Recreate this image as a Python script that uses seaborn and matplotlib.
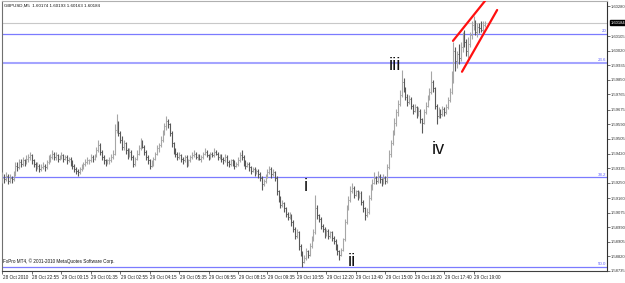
import matplotlib
matplotlib.use("Agg")
import matplotlib.pyplot as plt
import matplotlib.transforms as mtransforms
import numpy as np
import pandas as pd
import seaborn as sns

# ---------------- data (prices in pips above 1.58700, M5 bars) ----------------
BASE = 1.5870
opens = [57,58,57,59,56,58,57,60,65,64, 67,66,68,67,69,70,71,68,66,64,
         65,63,64,65,64,67,69,70,72,70, 71,69,70,71,69,70,68,69,67,65,
         63,62,61,63,64,66,67,68,68,70, 69,71,74,77,73,70,68,67,68,68,
         70,72,86,90,84,80,76,78,74,71, 73,70,66,69,72,75,79,76,73,70,
         68,65,66,69,72,75,77,80,84,88, 91,89,84,78,74,72,70,71,69,68,
         70,66,68,70,71,72,70,71,69,70, 72,73,71,70,72,71,73,72,70,71,
         69,68,70,67,66,68,67,65,66,68, 71,70,67,65,66,64,62,63,61,62,
         60,58,54,56,59,61,63,60,61,58, 50,46,42,43,40,37,35,36,32,28,
         24,26,18,14,9,11,15,13,18,22, 26,40,36,34,30,28,25,27,24,26,
         23,21,18,15,13,16,22,32,40,45, 50,52,48,50,47,49,44,40,36,38,
         46,52,55,58,56,59,57,55,58,56, 64,72,78,84,90,96,101,106,114,110,
         105,102,104,100,97,99,95,97,92,90, 96,100,104,108,114,110,100,94,97,95,
         98,96,99,103,108,116,132,126,130,128, 134,140,137,132,136,141,147,149,143,146,
         145,144,147]
highs = [61,60,61,60,60,59,62,67,67,69, 69,70,69,71,72,73,72,69,67,67,
         66,66,67,66,68,71,72,74,73,73, 72,71,73,72,71,71,70,70,68,66,
         64,63,64,66,67,69,70,69,72,71, 72,76,80,78,74,71,69,69,70,72,
         74,89,95,91,85,82,80,79,75,75, 74,71,70,74,77,81,80,77,74,71,
         69,68,70,73,77,78,82,86,90,94, 92,90,85,79,75,73,73,72,70,71,
         71,69,71,73,74,73,72,72,71,73, 75,74,72,73,73,75,74,73,72,72,
         70,72,71,68,69,69,68,67,70,73, 74,71,68,67,67,65,64,64,63,63,
         61,59,57,60,63,65,64,63,62,59, 51,47,45,44,41,38,38,37,33,29,
         28,27,19,15,13,17,16,20,24,28, 48,42,37,35,31,29,28,28,27,27,
         24,22,19,16,17,23,34,42,47,53, 55,53,51,51,50,50,45,41,40,48,
         54,57,61,59,62,60,58,60,59,66, 74,80,86,93,98,103,109,121,116,111,
         107,106,105,101,101,100,99,98,93,98, 102,106,110,120,115,111,101,99,98,100,
         99,101,105,110,120,137,134,132,136,137, 143,144,139,140,143,149,152,150,148,148,
         149,149,149]
lows = [55,55,56,54,55,55,56,59,62,63, 64,65,65,66,67,68,66,64,62,63,
        61,62,63,62,63,66,67,69,68,68, 67,68,69,67,68,66,67,65,63,61,
        60,59,60,62,63,65,66,66,67,67, 68,70,73,71,68,66,65,66,66,67,
        69,71,84,82,78,74,74,72,69,70, 68,64,65,68,71,74,75,71,68,66,
        63,64,65,68,71,73,76,79,83,86, 87,82,76,72,70,68,69,67,66,67,
        64,65,67,69,70,69,68,68,67,69, 71,70,68,69,70,70,71,68,69,67,
        66,67,65,64,65,65,63,64,65,67, 68,65,63,64,62,60,61,59,60,58,
        56,51,53,55,58,60,58,59,56,48, 44,40,41,38,35,33,34,30,26,22,
        23,16,12,6,8,10,11,12,17,21, 25,34,32,28,26,23,24,22,23,21,
        19,16,13,10,12,15,21,31,39,44, 49,46,47,45,46,42,38,33,35,37,
        45,51,54,54,55,55,53,54,54,55, 63,70,77,83,88,94,100,105,108,103,
        100,101,98,95,96,93,94,90,84,89, 95,99,103,107,108,98,89,93,93,94,
        94,95,98,102,107,113,120,122,124,126, 131,134,129,128,134,139,144,141,140,142,
        143,143,146]
closes = [58,57,59,56,58,57,60,65,64,67, 66,68,67,69,70,71,68,66,64,65,
          63,64,65,64,67,69,70,72,70,71, 69,70,71,69,70,68,69,67,65,63,
          62,61,63,64,66,67,68,68,70,69, 71,74,77,73,70,68,67,68,68,70,
          72,86,90,84,80,76,78,74,71,73, 70,66,69,72,75,79,76,73,70,68,
          65,66,69,72,75,77,80,84,88,91, 89,84,78,74,72,70,71,69,68,70,
          66,68,70,71,72,70,71,69,70,72, 73,71,70,72,71,73,72,70,71,69,
          68,70,67,66,68,67,65,66,68,71, 70,67,65,66,64,62,63,61,62,60,
          58,54,56,59,61,63,60,61,58,50, 46,42,43,40,37,35,36,32,28,24,
          26,18,14,9,11,15,13,18,22,26, 40,36,34,30,28,25,27,24,26,23,
          21,18,15,13,16,22,32,40,45,50, 52,48,50,47,49,44,40,36,38,46,
          52,55,58,56,59,57,55,58,56,64, 72,78,84,90,96,101,106,114,110,105,
          102,104,100,97,99,95,97,92,90,96, 100,104,108,114,110,100,94,97,95,98,
          96,99,103,108,116,132,126,130,128,134, 140,137,132,136,141,147,149,143,146,145,
          144,147,148]

time_tick_bars = [0, 16, 32, 48, 64, 80, 96, 112, 128, 144, 160, 176, 192, 208, 224, 240, 256]
time_tick_labels = ["28 Oct 2010", "28 Oct 22:55", "29 Oct 00:15", "29 Oct 01:35", "29 Oct 02:55",
                    "29 Oct 04:15", "29 Oct 05:35", "29 Oct 06:55", "29 Oct 08:15", "29 Oct 09:35",
                    "29 Oct 10:55", "29 Oct 12:20", "29 Oct 13:40", "29 Oct 15:00", "29 Oct 16:20",
                    "29 Oct 17:40", "29 Oct 19:00"]
price_ticks = [1.58735, 1.58820, 1.58905, 1.58990, 1.59075, 1.59160, 1.59250, 1.59335, 1.59420,
               1.59505, 1.59590, 1.59675, 1.59765, 1.59850, 1.59935, 1.60020, 1.60105, 1.60280]
current_price = 1.60184
title_text = "GBPUSD,M5  1.60174 1.60193 1.60163 1.60184"
copyright_text = "FxPro MT4, \u00a9 2001-2010 MetaQuotes Software Corp."

fib_levels = [1.60118, 1.59949, 1.59281, 1.58758]
fib_labels = ["20", "23.6", "38.2", "50.0"]

wave_labels = ["i", "ii", "iii", "iv"]
wave_bar = [165.0, 190.0, 213.3, 236.7]
wave_price = [1.59229, 1.58793, 1.59932, 1.59444]

channel_upper_bar = [244.8, 262.2]
channel_upper_price = [1.60077, 1.60310]
channel_lower_bar = [249.7, 268.8]
channel_lower_price = [1.59897, 1.60257]

# ---------------- drawing ----------------
sns.set_theme(style="white")
plt.rcParams['font.family'] = ['Liberation Sans', 'DejaVu Sans']

n = len(closes)
assert len(opens) == n == len(highs) == len(lows)
idx = np.arange(n)
o = BASE + np.array(opens) / 10000.0
h = BASE + np.array(highs) / 10000.0
l = BASE + np.array(lows) / 10000.0
c = BASE + np.array(closes) / 10000.0

fig = plt.figure(figsize=(6.25, 2.83), dpi=100)
fig.patch.set_facecolor("white")
ax = fig.add_axes([2 / 625, 12 / 283, 605 / 625, 270 / 283])
ax.set_facecolor("white")

up = c >= o
col = np.where(up, "#a6a6a6", "#585858")
ax.vlines(idx, l, h, colors=col, linewidth=0.8, zorder=3)
ax.hlines(o, idx - 0.45, idx, colors=col, linewidth=0.7, zorder=3)
ax.hlines(c, idx, idx + 0.45, colors=col, linewidth=0.7, zorder=3)

# current price line
ax.axhline(current_price, color="#c8c8c8", linewidth=0.8, zorder=1)

# fibonacci levels
yb = mtransforms.blended_transform_factory(ax.transAxes, ax.transData)
for lev, lab in zip(fib_levels, fib_labels):
    lw = 1.5 if lab == "23.6" else 0.9
    colr = "#a4a4ff" if lab == "23.6" else "#7b7bff"
    ax.axhline(lev, color=colr, linewidth=lw, zorder=2)
    ax.text(0.9985, lev + 0.00004, lab, transform=yb,
            ha="right", va="bottom", fontsize=3.2, color="#6060ff", zorder=4)

# red channel lines
chan = pd.DataFrame({
    "bar": channel_upper_bar + channel_lower_bar,
    "price": channel_upper_price + channel_lower_price,
    "line": ["upper", "upper", "lower", "lower"],
})
sns.lineplot(data=chan, x="bar", y="price", units="line", estimator=None, color="#ff1010",
             linewidth=1.6, ax=ax, zorder=5, legend=False)

# wave labels
for lab, xb, yp in zip(wave_labels, wave_bar, wave_price):
    ax.text(xb, yp, lab, ha="center", va="center", fontsize=13, color="#111111", zorder=6)

ax.set_xlim(-0.27, 328.5)
ax.set_ylim(1.587408, 1.603095)
ax.set_xlabel("")
ax.set_ylabel("")

# axes frame
for s in ["left", "bottom", "right", "top"]:
    ax.spines[s].set_visible(True)
    ax.spines[s].set_linewidth(0.8)
ax.spines["left"].set_color("#707070")
ax.spines["top"].set_color("#b0b0b0")
ax.spines["bottom"].set_color("#404040")
ax.spines["right"].set_color("#303030")

# price axis on right
ax.yaxis.tick_right()
ax.set_yticks(price_ticks)
ax.set_yticklabels(["%.5f" % p for p in price_ticks])
ax.tick_params(axis="y", which="both", right=True, left=False, length=1.8, width=0.5,
               pad=0.6, labelsize=2.95, colors="#333333")

# time axis
ax.set_xticks(time_tick_bars)
ax.set_xticklabels([""] * len(time_tick_bars))
ax.tick_params(axis="x", which="both", bottom=True, length=2.5, width=0.5, colors="#333333")
tb = mtransforms.blended_transform_factory(ax.transData, fig.transFigure)
for xb, lab in zip(time_tick_bars, time_tick_labels):
    ax.text(xb + 0.3, 5.5 / 283, lab, transform=tb, ha="left", va="center", fontsize=3.3,
            color="#222222", clip_on=False)

# current price box on the axis
ax.text(1.0055, current_price, "%.5f" % current_price, transform=yb, ha="left", va="center",
        fontsize=2.95, color="white", clip_on=False, zorder=10,
        bbox=dict(boxstyle="square,pad=0.18", facecolor="black", edgecolor="black"))

# header / footer texts
ax.text(0.003, 0.992, title_text, transform=ax.transAxes, ha="left", va="top", fontsize=3.15,
        color="#111111")
ax.text(0.002, 7.5 / 270, copyright_text, transform=ax.transAxes, ha="left", va="bottom",
        fontsize=3.3, color="#111111")

fig.savefig("out.png", dpi=100, facecolor="white")
